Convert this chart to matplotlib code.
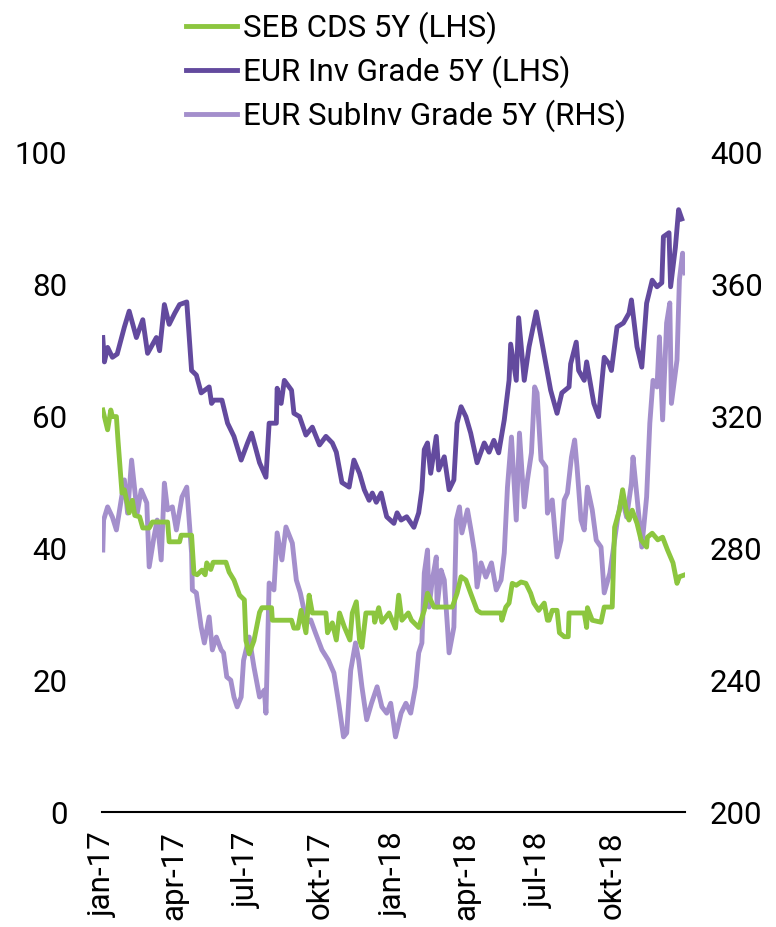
import matplotlib
matplotlib.use("Agg")
import matplotlib.pyplot as plt
import pandas as pd

plt.rcParams['font.family'] = ['Roboto', 'DejaVu Sans']

# ---------------- data ----------------
ig_dates = ["2017-01-02","2017-01-04","2017-01-08","2017-01-14","2017-01-20","2017-01-29","2017-02-04","2017-02-13",
            "2017-02-21","2017-02-27","2017-03-10","2017-03-14","2017-03-20","2017-03-26","2017-04-02","2017-04-08",
            "2017-04-17","2017-04-23","2017-04-29","2017-05-05","2017-05-15","2017-05-18","2017-05-21","2017-05-31",
            "2017-06-07","2017-06-15","2017-06-24","2017-07-02","2017-07-07","2017-07-17","2017-07-25","2017-07-29",
            "2017-08-07","2017-08-08","2017-08-13","2017-08-17","2017-08-26","2017-08-29","2017-09-05","2017-09-13",
            "2017-09-21","2017-09-30","2017-10-08","2017-10-16","2017-10-21","2017-10-28","2017-11-06","2017-11-12",
            "2017-11-19","2017-11-25","2017-12-01","2017-12-05","2017-12-10","2017-12-16","2017-12-20","2017-12-23",
            "2018-01-01","2018-01-05","2018-01-10","2018-01-17","2018-01-26","2018-02-01","2018-02-05","2018-02-08",
            "2018-02-12","2018-02-16","2018-02-23","2018-02-26","2018-03-05","2018-03-11","2018-03-17","2018-03-21",
            "2018-03-26","2018-04-01","2018-04-07","2018-04-15","2018-04-24","2018-04-30","2018-05-06","2018-05-12",
            "2018-05-19","2018-05-25","2018-05-27","2018-06-03","2018-06-06","2018-06-13","2018-06-19","2018-06-28",
            "2018-07-04","2018-07-10","2018-07-16","2018-07-24","2018-07-30","2018-08-08","2018-08-10","2018-08-17",
            "2018-08-20","2018-08-27","2018-08-30","2018-09-08","2018-09-14","2018-09-21","2018-09-27","2018-09-30",
            "2018-10-07","2018-10-15","2018-10-22","2018-10-25","2018-11-01","2018-11-07","2018-11-13","2018-11-20",
            "2018-11-26","2018-12-02","2018-12-04","2018-12-11","2018-12-13","2018-12-19","2018-12-23","2018-12-27"]
ig_values = [72.0,68.3,70.5,69.0,69.5,73.6,76.0,72.0,
             74.7,69.6,72.0,70.0,77.0,74.0,75.7,77.0,
             77.4,67.0,66.3,63.6,64.5,62.0,62.5,62.5,
             59.0,57.0,53.4,56.0,57.5,53.0,50.8,59.0,
             59.0,64.3,62.0,65.5,64.0,60.5,60.0,57.2,
             58.4,55.7,57.0,56.0,54.6,50.0,49.3,53.4,
             51.4,48.9,47.3,48.4,47.0,48.4,46.3,44.8,
             43.8,45.4,44.3,44.8,43.2,45.4,48.9,55.0,
             56.0,51.4,57.0,51.9,53.9,48.9,50.4,59.0,
             61.5,60.0,57.5,53.0,56.0,54.6,56.4,54.5,
             59.5,65.5,71.0,65.5,75.0,65.5,70.6,75.9,
             72.0,68.0,64.0,60.5,63.6,64.5,68.0,71.3,
             67.0,65.5,68.3,62.0,60.0,69.0,68.0,67.0,
             73.6,74.2,75.7,77.7,70.6,67.5,77.2,80.7,
             79.7,80.3,87.3,87.9,79.7,85.7,91.4,90.0]

xo_dates = ["2017-01-02","2017-01-03","2017-01-08","2017-01-14","2017-01-19","2017-01-23","2017-01-29","2017-02-02",
            "2017-02-07","2017-02-11","2017-02-14","2017-02-19","2017-02-26","2017-03-01","2017-03-07","2017-03-11",
            "2017-03-16","2017-03-20","2017-03-24","2017-03-30","2017-04-04","2017-04-11","2017-04-17","2017-04-23",
            "2017-04-24","2017-04-29","2017-05-05","2017-05-09","2017-05-15","2017-05-19","2017-05-24","2017-05-30",
            "2017-06-02","2017-06-06","2017-06-11","2017-06-15","2017-06-19","2017-06-24","2017-06-27","2017-07-04",
            "2017-07-10","2017-07-17","2017-07-23","2017-07-25","2017-07-29","2017-08-04","2017-08-08","2017-08-14",
            "2017-08-19","2017-08-27","2017-09-01","2017-09-06","2017-09-14","2017-09-19","2017-09-25","2017-10-03",
            "2017-10-11","2017-10-18","2017-10-24","2017-10-30","2017-11-03","2017-11-08","2017-11-14","2017-11-18",
            "2017-11-22","2017-11-28","2017-12-04","2017-12-11","2017-12-17","2017-12-23","2017-12-28","2018-01-03",
            "2018-01-10","2018-01-16","2018-01-22","2018-01-28","2018-02-01","2018-02-05","2018-02-08","2018-02-12",
            "2018-02-14","2018-02-18","2018-02-23","2018-02-24","2018-03-01","2018-03-05","2018-03-09","2018-03-11",
            "2018-03-17","2018-03-20","2018-03-24","2018-03-27","2018-04-03","2018-04-08","2018-04-12","2018-04-15",
            "2018-04-20","2018-04-26","2018-05-03","2018-05-09","2018-05-15","2018-05-19","2018-05-23","2018-05-28",
            "2018-06-03","2018-06-07","2018-06-13","2018-06-17","2018-06-22","2018-06-26","2018-06-29","2018-07-04",
            "2018-07-10","2018-07-12","2018-07-18","2018-07-24","2018-07-29","2018-08-02","2018-08-06","2018-08-11",
            "2018-08-15","2018-08-18","2018-08-23","2018-08-27","2018-08-31","2018-09-06","2018-09-11","2018-09-17",
            "2018-09-21","2018-09-28","2018-10-01","2018-10-08","2018-10-13","2018-10-19","2018-10-25","2018-10-27",
            "2018-11-01","2018-11-07","2018-11-13","2018-11-17","2018-11-21","2018-11-26","2018-11-29","2018-12-03",
            "2018-12-08","2018-12-12","2018-12-14","2018-12-21","2018-12-24","2018-12-28","2018-12-31"]
xo_values = [279.5,288.6,292.6,289.5,285.6,291.7,300.8,290.7,
             306.8,297.7,290.7,297.7,293.8,274.4,283.5,288.6,
             276.5,299.8,291.7,292.6,285.6,295.6,298.6,278.6,
             267.4,266.5,256.1,251.3,259.2,249.2,253.1,249.2,
             248.3,241.0,240.0,234.9,231.9,234.9,246.0,253.1,
             244.0,234.9,237.0,230.0,269.5,267.4,284.7,276.5,
             286.5,281.6,270.4,266.5,257.4,258.3,254.3,249.2,
             246.1,242.2,233.0,222.8,224.0,243.0,251.3,246.1,
             238.0,228.0,233.0,238.0,231.9,230.0,233.0,222.8,
             230.0,233.0,230.0,238.0,248.3,251.3,272.5,279.5,
             262.2,270.4,277.4,262.2,273.4,270.4,256.1,248.3,
             256.1,288.6,292.6,284.7,291.7,284.7,278.6,268.3,
             275.6,271.3,275.6,267.4,270.4,278.6,298.6,313.8,
             288.6,315.0,292.6,300.8,309.0,329.0,327.2,306.8,
             304.7,290.7,294.7,277.4,282.5,294.7,296.8,307.7,
             312.9,304.7,288.6,285.6,298.6,291.7,282.5,280.4,
             266.5,272.5,277.4,289.5,295.6,289.5,299.8,307.7,
             295.6,280.4,295.6,318.0,331.0,329.0,344.2,319.0,
             348.4,354.5,324.0,337.2,361.5,369.6,363.6]

cds_dates = ["2017-01-02","2017-01-08","2017-01-12","2017-01-14","2017-01-19","2017-01-21","2017-01-26","2017-01-29",
             "2017-02-04","2017-02-08","2017-02-11","2017-02-17","2017-02-21","2017-03-01","2017-03-05","2017-03-24",
             "2017-03-26","2017-04-08","2017-04-10","2017-04-23","2017-04-26","2017-04-30","2017-05-06","2017-05-10",
             "2017-05-12","2017-05-17","2017-05-20","2017-06-05","2017-06-09","2017-06-15","2017-06-22","2017-06-28",
             "2017-06-30","2017-07-04","2017-07-10","2017-07-17","2017-07-20","2017-08-01","2017-08-02","2017-08-26",
             "2017-08-29","2017-09-03","2017-09-07","2017-09-13","2017-09-17","2017-09-21","2017-10-08","2017-10-10",
             "2017-10-16","2017-10-21","2017-10-25","2017-10-31","2017-11-07","2017-11-10","2017-11-15","2017-11-19",
             "2017-11-22","2017-11-27","2017-12-07","2017-12-08","2017-12-13","2017-12-17","2017-12-26","2018-01-03",
             "2018-01-07","2018-01-11","2018-01-19","2018-01-23","2018-02-01","2018-02-08","2018-02-12","2018-02-20",
             "2018-03-15","2018-03-21","2018-03-26","2018-04-01","2018-04-07","2018-04-15","2018-04-20","2018-05-15",
             "2018-05-16","2018-05-21","2018-05-25","2018-05-29","2018-06-03","2018-06-09","2018-06-15","2018-06-21",
             "2018-06-25","2018-07-01","2018-07-08","2018-07-12","2018-07-14","2018-07-18","2018-07-24","2018-07-27",
             "2018-08-02","2018-08-07","2018-08-08","2018-08-27","2018-08-30","2018-08-31","2018-09-06","2018-09-17",
             "2018-09-21","2018-10-01","2018-10-04","2018-10-10","2018-10-14","2018-10-19","2018-10-22","2018-10-26",
             "2018-11-01","2018-11-06","2018-11-13","2018-11-14","2018-11-20","2018-11-27","2018-12-03","2018-12-09",
             "2018-12-16","2018-12-21","2018-12-24","2018-12-31"]
cds_values = [61.0,58.0,61.0,60.0,60.0,56.4,48.4,48.9,
              45.4,47.3,45.0,44.8,43.1,43.1,44.0,44.0,
              41.0,41.0,42.0,42.0,36.2,36.0,36.7,36.0,
              37.8,36.8,37.9,37.9,36.4,35.2,32.9,32.2,
              26.0,24.0,26.0,30.3,31.0,31.0,29.1,29.1,
              27.9,27.9,30.6,27.2,32.9,30.2,30.2,27.2,
              28.7,26.1,30.2,28.1,26.1,30.2,31.9,26.1,
              25.0,30.2,30.2,28.8,31.0,28.8,30.2,27.9,
              32.9,29.1,30.2,29.1,28.0,30.6,33.2,31.1,
              31.1,33.2,35.7,35.2,33.2,30.6,30.2,30.2,
              29.1,31.1,31.7,34.7,34.4,34.9,34.7,33.2,
              31.7,30.6,31.7,29.1,29.1,30.6,30.6,27.2,
              26.6,26.6,30.2,30.2,28.0,31.0,29.1,28.8,
              31.1,31.1,43.2,45.8,48.9,45.4,44.3,45.8,
              43.8,41.3,40.2,41.7,42.3,41.3,41.7,39.8,
              37.8,34.7,35.7,36.0]

labels = ["SEB CDS 5Y (LHS)", "EUR Inv Grade 5Y (LHS)", "EUR SubInv Grade 5Y (RHS)"]
left_ticks = [0, 20, 40, 60, 80, 100]
right_ticks = [200, 240, 280, 320, 360, 400]
x_tick_dates = ["2017-01-01","2017-04-01","2017-07-01","2017-10-01",
                "2018-01-01","2018-04-01","2018-07-01","2018-10-01"]
x_tick_labels = ["jan-17","apr-17","jul-17","okt-17","jan-18","apr-18","jul-18","okt-18"]

# ---------------- styles ----------------
c_green = "#8cc63f"
c_dark = "#634a9e"
c_light = "#a48fcc"
lw = 3.5
fs = 22.5

fig = plt.figure(figsize=(7.76, 9.27), dpi=100)
ax = fig.add_axes([102/776, 1 - 812/927, (685-102)/776, (812-153)/927])
ax2 = ax.twinx()
ax2.set_zorder(ax.get_zorder() - 1)
ax.patch.set_visible(False)

l3, = ax2.plot(pd.to_datetime(xo_dates), xo_values, color=c_light, lw=lw, solid_joinstyle='round')
l2, = ax.plot(pd.to_datetime(ig_dates), ig_values, color=c_dark, lw=lw, solid_joinstyle='round')
l1, = ax.plot(pd.to_datetime(cds_dates), cds_values, color=c_green, lw=lw, solid_joinstyle='round')

ax.set_xlim(pd.Timestamp("2017-01-01"), pd.Timestamp("2018-12-31"))
ax.set_ylim(0, 100)
ax2.set_ylim(200, 400)
ax.set_yticks(left_ticks)
ax2.set_yticks(right_ticks)
ax.set_xticks(pd.to_datetime(x_tick_dates))
ax.set_xticklabels(x_tick_labels, rotation=90, fontsize=fs)

for a in (ax, ax2):
    for s in a.spines.values():
        s.set_visible(False)
ax.spines['bottom'].set_visible(True)
ax.spines['bottom'].set_linewidth(1.5)
ax.spines['bottom'].set_color('black')

ax.tick_params(axis='y', length=0, pad=25, labelsize=fs, colors='black')
ax2.tick_params(axis='y', length=0, pad=18, labelsize=fs, colors='black')
ax.tick_params(axis='x', length=0, pad=14, labelsize=fs)

fig.legend([l1, l2, l3], labels, loc='upper left', bbox_to_anchor=(174/776, 1.0),
           frameon=False, fontsize=fs, handlelength=1.65, handletextpad=0.17,
           labelspacing=0.36, borderaxespad=0.0, borderpad=0.38)

fig.savefig("out.png", dpi=100)
